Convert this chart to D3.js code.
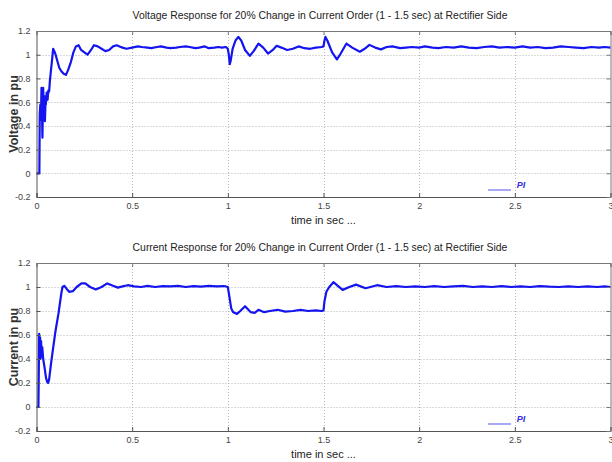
<!DOCTYPE html>
<html lang="en">
<head>
	<meta charset="UTF-8">
	<title>Rectifier Side Response</title>
	<script src="https://cdn.jsdelivr.net/npm/d3@7"></script>
<style>
    body{
        background-color: #FFF;
        margin: 0;
    }
    .tick text {
        font-family: "Liberation Sans Narrow", "Arial Narrow", sans-serif;
        font-size: 9px;
        fill: #444;
    }
    .title {
        font-family: "Liberation Sans Narrow", "Arial Narrow", sans-serif;
        font-size: 10.4px;
        fill: #222;
        text-anchor: middle;
    }
    .xlabel {
        font-family: "Liberation Sans Narrow", "Arial Narrow", sans-serif;
        font-size: 11px;
        fill: #222;
        text-anchor: middle;
    }
    .ylabel {
        font-family: "Liberation Sans", Arial, sans-serif;
        font-size: 12.5px;
        font-weight: bold;
        fill: #333;
        text-anchor: middle;
    }
    .grid line {
        stroke: #b5b5b5;
        stroke-dasharray: 1,2;
    }
</style>
</head>
<body>
	<script type="text/javascript">

        // 时间刻度 / 纵轴刻度
        var xTicks = [0, 0.5, 1, 1.5, 2, 2.5, 3];
        var yTicks = [-0.2, 0, 0.2, 0.4, 0.6, 0.8, 1, 1.2];
        var titles = [
            "Voltage Response for 20% Change in Current Order (1 - 1.5 sec) at Rectifier Side",
            "Current Response for 20% Change in Current Order (1 - 1.5 sec) at Rectifier Side"
        ];
        var yLabels = ["Voltage in pu", "Current in pu"];
        var xLabel = "time in sec ...";
        var legendName = "PI";

        // 电压响应
        var voltT = [0, 0.015, 0.017, 0.02, 0.023, 0.026, 0.028, 0.031, 0.035, 0.038, 0.041, 0.044, 0.047, 0.049,
            0.053, 0.058, 0.062, 0.066, 0.07, 0.075, 0.081, 0.087, 0.093, 0.1, 0.11, 0.119, 0.13, 0.142, 0.154,
            0.165, 0.18, 0.193, 0.206, 0.22, 0.233, 0.25, 0.267, 0.285, 0.3, 0.32, 0.34, 0.36, 0.38, 0.4, 0.42,
            0.434, 0.45, 0.47, 0.5, 0.53, 0.55, 0.58, 0.6, 0.63, 0.65, 0.68, 0.7, 0.73, 0.75, 0.78, 0.8, 0.83,
            0.85, 0.88, 0.9, 0.93, 0.95, 0.97, 0.99, 1.0, 1.005, 1.01, 1.015, 1.025, 1.04, 1.055, 1.07, 1.09,
            1.115, 1.135, 1.16, 1.185, 1.21, 1.235, 1.255, 1.28, 1.31, 1.34, 1.37, 1.4, 1.43, 1.46, 1.49, 1.5,
            1.505, 1.51, 1.52, 1.53, 1.545, 1.57, 1.59, 1.62, 1.65, 1.69, 1.715, 1.74, 1.77, 1.8, 1.83, 1.86,
            1.9, 1.93, 1.96, 2.0, 2.03, 2.07, 2.1, 2.14, 2.18, 2.22, 2.26, 2.3, 2.34, 2.38, 2.42, 2.46, 2.5,
            2.54, 2.58, 2.62, 2.66, 2.7, 2.74, 2.78, 2.82, 2.86, 2.9, 2.94, 2.97, 3.0];
        var voltV = [0, 0, 0.5, 0.58, 0.45, 0.72, 0.6, 0.3, 0.72, 0.5, 0.65, 0.44, 0.6, 0.58,
            0.68, 0.62, 0.7, 0.69, 0.78, 0.86, 0.95, 1.05, 1.03, 1.0, 0.94, 0.89, 0.86, 0.84, 0.83,
            0.87, 0.94, 1.02, 1.07, 1.08, 1.04, 1.02, 1.0, 1.04, 1.08, 1.07, 1.05, 1.03, 1.04, 1.07, 1.08,
            1.07, 1.06, 1.05, 1.06, 1.07, 1.065, 1.06, 1.055, 1.065, 1.07, 1.06, 1.055, 1.06, 1.065, 1.07,
            1.065, 1.055, 1.06, 1.07, 1.055, 1.06, 1.065, 1.06, 1.065, 1.05, 1.0, 0.92, 0.95, 1.05, 1.12,
            1.15, 1.12, 1.04, 0.99, 1.03, 1.094, 1.06, 1.01, 1.04, 1.075, 1.06, 1.04, 1.05, 1.07, 1.055, 1.05,
            1.06, 1.065, 1.07, 1.12, 1.15, 1.12, 1.08, 1.02, 0.96, 1.01, 1.094, 1.06, 1.025, 1.05, 1.083,
            1.06, 1.045, 1.065, 1.07, 1.055, 1.06, 1.065, 1.06, 1.07, 1.06, 1.055, 1.065, 1.06, 1.07, 1.06,
            1.055, 1.065, 1.07, 1.06, 1.065, 1.06, 1.07, 1.06, 1.065, 1.055, 1.06, 1.07, 1.065, 1.06, 1.055,
            1.065, 1.06, 1.065, 1.06];

        // 电流响应
        var currT = [0, 0.01, 0.012, 0.014, 0.017, 0.019, 0.021, 0.024, 0.027, 0.03, 0.035, 0.042, 0.05, 0.056,
            0.061, 0.066, 0.075, 0.085, 0.1, 0.115, 0.13, 0.136, 0.145, 0.16, 0.171, 0.19, 0.21, 0.235, 0.255,
            0.28, 0.31, 0.34, 0.37, 0.4, 0.425, 0.45, 0.477, 0.51, 0.547, 0.58, 0.62, 0.66, 0.7, 0.74, 0.78,
            0.82, 0.86, 0.9, 0.94, 0.98, 1.0, 1.008, 1.018, 1.028, 1.048, 1.065, 1.09, 1.12, 1.14, 1.16, 1.19,
            1.22, 1.26, 1.3, 1.34, 1.38, 1.42, 1.46, 1.49, 1.5, 1.505, 1.515, 1.53, 1.552, 1.575, 1.6, 1.635,
            1.67, 1.72, 1.78, 1.83, 1.88, 1.93, 1.98, 2.03, 2.08, 2.13, 2.18, 2.23, 2.28, 2.33, 2.38, 2.43,
            2.48, 2.53, 2.58, 2.63, 2.68, 2.73, 2.78, 2.83, 2.88, 2.93, 2.97, 3.0];
        var currI = [0, 0, 0.3, 0.61, 0.45, 0.58, 0.4, 0.55, 0.42, 0.5, 0.4, 0.33, 0.24, 0.21,
            0.2, 0.23, 0.35, 0.47, 0.64, 0.78, 0.95, 1.0, 1.01, 0.98, 0.96, 0.965, 1.0, 1.03, 1.03,
            1.0, 0.98, 1.0, 1.03, 1.01, 0.995, 1.005, 1.015, 1.005, 1.0, 1.01, 1.0, 1.008, 1.005, 1.01, 1.0,
            1.008, 1.003, 1.01, 1.005, 1.008, 1.0, 0.92, 0.82, 0.79, 0.776, 0.8, 0.84, 0.79, 0.785, 0.81, 0.79,
            0.8, 0.81, 0.795, 0.8, 0.81, 0.8, 0.805, 0.8, 0.805, 0.88, 0.96, 1.0, 1.04, 1.01, 0.976, 1.0,
            1.02, 0.99, 1.015, 1.0, 1.008, 1.0, 1.005, 1.0, 1.008, 1.0, 1.005, 1.01, 1.0, 1.005, 1.0, 1.008,
            1.0, 1.005, 1.0, 1.008, 1.003, 1.0, 1.006, 1.0, 1.005, 1.0, 1.005, 1.0];

        var width = 612;
        var height = 462;

        var svg = d3.select("body")
        .append("svg")
        .attr("width", width)
        .attr("height", height);

        // 两个子图的位置
        var panels = [
            {top: 31, bottom: 197, t: voltT, v: voltV},
            {top: 263, bottom: 431, t: currT, v: currI}
        ];
        var left = 36.5, right = 610.5;

        panels.forEach(function(p, k){
            var x = d3.scaleLinear().domain([0, 3]).range([left, right]);
            var y = d3.scaleLinear().domain([-0.2, 1.2]).range([p.bottom, p.top]);
            var g = svg.append("g");

            // 网格
            g.append("g").attr("class", "grid")
            .selectAll("line.gx")
            .data(xTicks.slice(1, -1))
            .enter().append("line")
            .attr("x1", function(d){ return Math.round(x(d)) + 0.5; })
            .attr("x2", function(d){ return Math.round(x(d)) + 0.5; })
            .attr("y1", p.top).attr("y2", p.bottom);
            g.append("g").attr("class", "grid")
            .selectAll("line.gy")
            .data(yTicks.slice(1, -1))
            .enter().append("line")
            .attr("y1", function(d){ return Math.round(y(d)) + 0.5; })
            .attr("y2", function(d){ return Math.round(y(d)) + 0.5; })
            .attr("x1", left).attr("x2", right);

            // 曲线
            var pts = p.t.map(function(t, i){ return [t, p.v[i]]; });
            var line = d3.line()
            .x(function(d){ return x(d[0]); })
            .y(function(d){ return y(d[1]); });
            g.append("path")
            .datum(pts)
            .attr("d", line)
            .attr("fill", "none")
            .attr("stroke", "#1414f0")
            .attr("stroke-width", 2.2)
            .attr("stroke-linejoin", "round");

            // 坐标轴 (刻度朝内)
            var xAxis = d3.axisBottom(x).tickValues(xTicks).tickSize(-4).tickPadding(6)
            .tickFormat(function(d){ return d; });
            var yAxis = d3.axisLeft(y).tickValues(yTicks).tickSize(-4).tickPadding(6)
            .tickFormat(function(d){ return d; });
            var xa = g.append("g").attr("transform", "translate(0," + p.bottom + ")").call(xAxis);
            var ya = g.append("g").attr("transform", "translate(" + left + ",0)").call(yAxis);
            g.append("g").attr("transform", "translate(0," + p.top + ")")
            .call(d3.axisTop(x).tickValues(xTicks).tickSize(-4).tickFormat(""));
            g.append("g").attr("transform", "translate(" + right + ",0)")
            .call(d3.axisRight(y).tickValues(yTicks).tickSize(-4).tickFormat(""));
            g.selectAll(".domain").attr("stroke", "#777");
            g.selectAll(".tick line").attr("stroke", "#777");
            xa.selectAll(".domain, .tick line").attr("stroke", "#555");
            ya.selectAll(".domain, .tick line").attr("stroke", "#555");

            // 标题和标签
            svg.append("text").attr("class", "title")
            .attr("x", 320).attr("y", p.top - 12)
            .text(titles[k]);
            svg.append("text").attr("class", "xlabel")
            .attr("x", x(1.5)).attr("y", p.bottom + 27)
            .text(xLabel);
            svg.append("text").attr("class", "ylabel")
            .attr("transform", "translate(18," + (p.top + p.bottom) / 2 + ") rotate(-90)")
            .text(yLabels[k]);

            // 图例
            var ly = p.bottom - 7;
            g.append("line")
            .attr("x1", x(2.36)).attr("x2", x(2.48))
            .attr("y1", ly).attr("y2", ly)
            .attr("stroke", "#8a8cf5").attr("stroke-width", 1.5);
            g.append("text")
            .attr("x", x(2.5) + 2).attr("y", ly - 2)
            .style("font-family", "Liberation Sans, Arial, sans-serif")
            .style("font-size", "9px").style("font-weight", "bold").style("font-style", "italic")
            .style("fill", "#3030e0")
            .text(legendName);
        });

	</script>
</body>
</html>
